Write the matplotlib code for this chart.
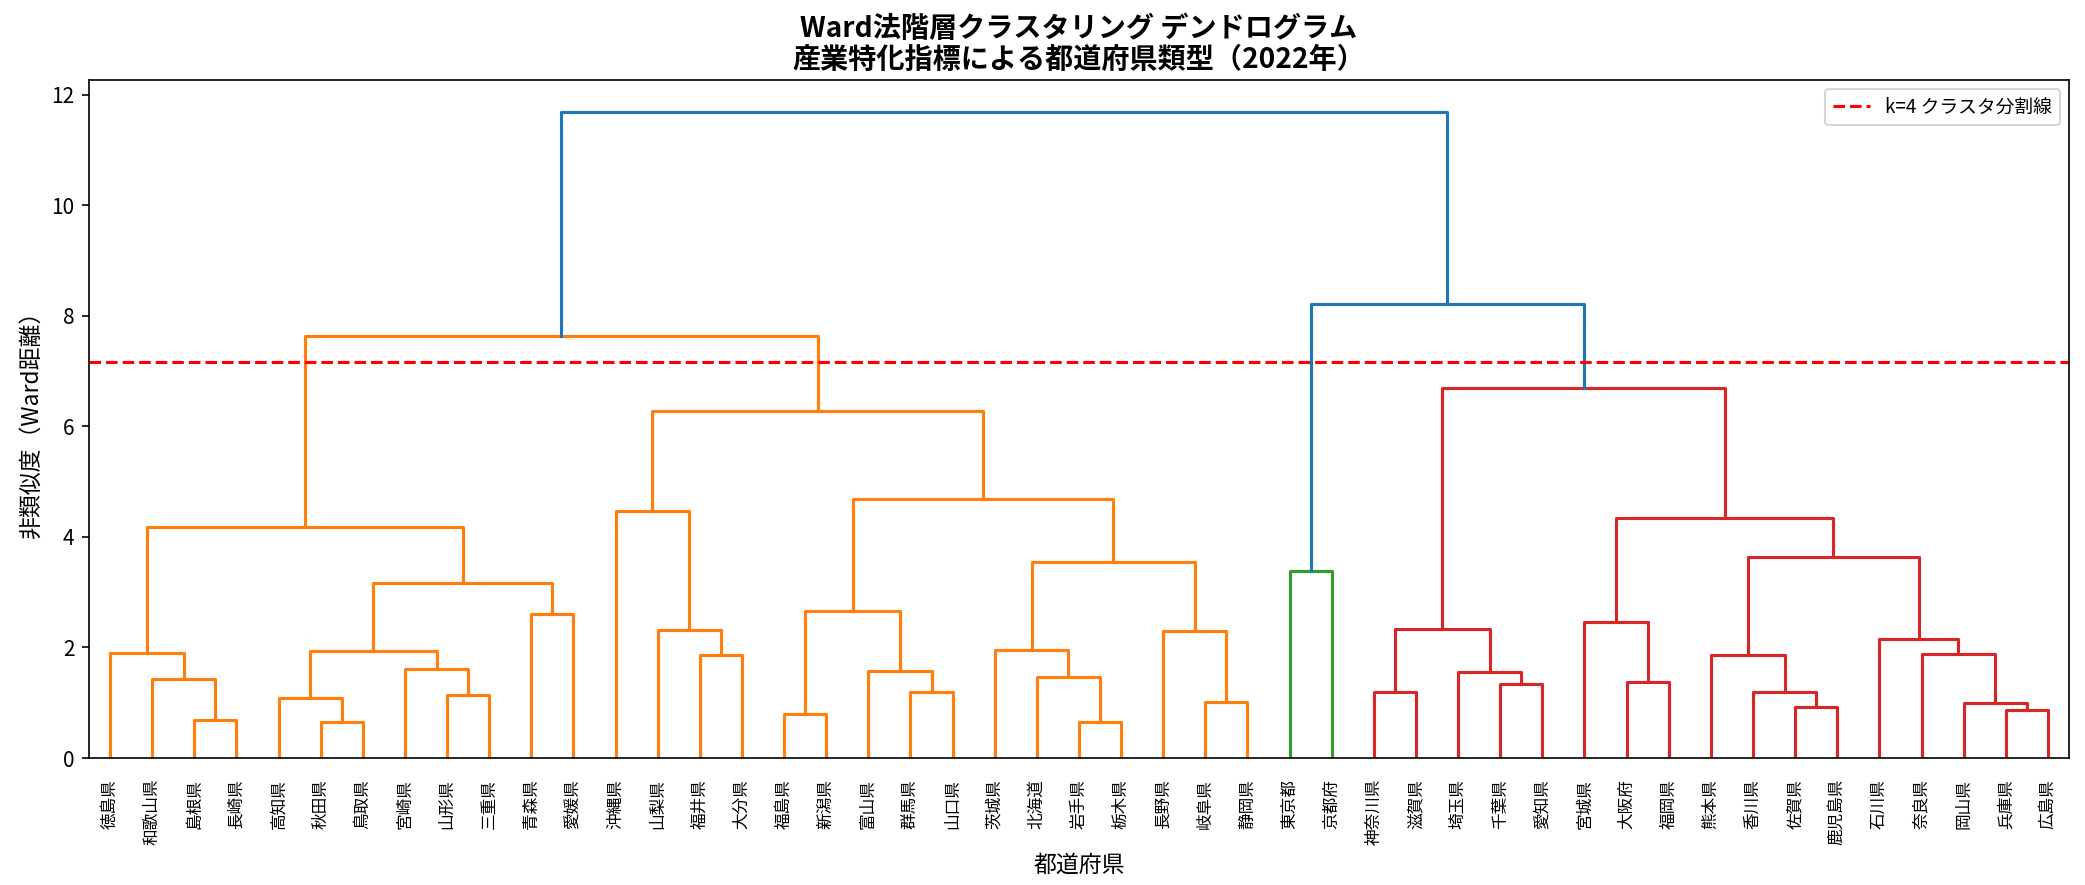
import numpy as np
import matplotlib
matplotlib.use("Agg")
import matplotlib.pyplot as plt

plt.rcParams['font.family'] = ['Noto Sans CJK JP', 'DejaVu Sans']

# leaf order as drawn
labels = ['徳島県', '和歌山県', '島根県', '長崎県', '高知県', '秋田県', '鳥取県', '宮崎県',
          '山形県', '三重県', '青森県', '愛媛県', '沖縄県', '山梨県', '福井県', '大分県',
          '福島県', '新潟県', '富山県', '群馬県', '山口県', '茨城県', '北海道', '岩手県',
          '栃木県', '長野県', '岐阜県', '静岡県', '東京都', '京都府', '神奈川県', '滋賀県',
          '埼玉県', '千葉県', '愛知県', '宮城県', '大阪府', '福岡県', '熊本県', '香川県',
          '佐賀県', '鹿児島県', '石川県', '奈良県', '岡山県', '兵庫県', '広島県']

# merges: (left, right, Ward distance); str = leaf, int = earlier merge index
merge_left = ['島根県', '和歌山県', '徳島県', '秋田県', '高知県', '山形県', '宮崎県', 4, '青森県', 7,
              2, '福井県', '山梨県', '沖縄県', '福島県', '群馬県', '富山県', 14, '岩手県', '北海道',
              '茨城県', '岐阜県', '長野県', 20, 17, 13, 10, '東京都', '神奈川県', '千葉県',
              '埼玉県', 28, '大阪府', '宮城県', '佐賀県', '香川県', '熊本県', '兵庫県', '岡山県', '奈良県',
              '石川県', 36, 33, 31, 27, 26]
merge_right = ['長崎県', 0, 1, '鳥取県', 3, '三重県', 5, 6, '愛媛県', 8,
               9, '大分県', 11, 12, '新潟県', '山口県', 15, 16, '栃木県', 18,
               19, '静岡県', 21, 22, 23, 24, 25, '京都府', '滋賀県', '愛知県',
               29, 30, '福岡県', 32, '鹿児島県', 34, 35, '広島県', 37, 38,
               39, 40, 41, 42, 43, 44]
merge_height = [0.69, 1.42, 1.90, 0.66, 1.08, 1.14, 1.61, 1.93, 2.61, 3.17,
                4.17, 1.87, 2.32, 4.46, 0.80, 1.20, 1.58, 2.66, 0.66, 1.47,
                1.96, 1.02, 2.29, 3.54, 4.69, 6.27, 7.64, 3.39, 1.20, 1.34,
                1.56, 2.33, 1.38, 2.46, 0.93, 1.20, 1.87, 0.87, 0.99, 1.88,
                2.16, 3.64, 4.35, 6.70, 8.21, 11.68]
cut_height = 7.17

palette = ['#ff7f0e', '#2ca02c', '#d62728']
above_color = '#1f77b4'
color_threshold = 0.7 * max(merge_height)

leaf_x = {lab: 5 + 10 * i for i, lab in enumerate(labels)}
node_x, node_color = {}, {}


def pos(node):
    if isinstance(node, str):
        return leaf_x[node], 0.0
    return node_x[node], merge_height[node]


def paint(node, col):
    if isinstance(node, int):
        node_color[node] = col
        paint(merge_left[node], col)
        paint(merge_right[node], col)


for k in range(len(merge_height)):
    node_x[k] = (pos(merge_left[k])[0] + pos(merge_right[k])[0]) / 2

# color clusters below threshold in leaf order, like scipy
ci = 0
for k in sorted(range(len(merge_height)), key=lambda k: node_x[k]):
    if merge_height[k] < color_threshold and k not in node_color:
        root = k
        # climb to the highest ancestor under threshold
        changed = True
        while changed:
            changed = False
            for p in range(len(merge_height)):
                if (merge_left[p] == root or merge_right[p] == root) and merge_height[p] < color_threshold:
                    root = p
                    changed = True
        paint(root, palette[ci % len(palette)])
        ci += 1

fig = plt.figure(figsize=(13.9, 5.9), dpi=150)
ax = fig.add_axes([0.0427, 0.1435, 0.9496, 0.7661])

for k in range(len(merge_height)):
    xl, yl = pos(merge_left[k])
    xr, yr = pos(merge_right[k])
    h = merge_height[k]
    ax.plot([xl, xl, xr, xr], [yl, h, h, yr], color=node_color.get(k, above_color), lw=1.5)

ax.axhline(cut_height, color='red', ls='--', lw=1.5, label='k=4 クラスタ分割線')
ax.set_xlim(0, 10 * len(labels))
ax.set_ylim(0, max(merge_height) * 1.05)
ax.set_xticks([leaf_x[l] for l in labels])
ax.set_xticklabels(labels, rotation=90, fontsize=8)
ax.tick_params(axis='x', length=0, pad=10)
ax.set_xlabel('都道府県', fontsize=11)
ax.set_ylabel('非類似度（Ward距離）', fontsize=11)
ax.set_title('Ward法階層クラスタリング デンドログラム\n産業特化指標による都道府県類型（2022年）',
             fontsize=13.5, fontweight='bold', linespacing=1.1)
ax.legend(loc='upper right', fontsize=9)

fig.savefig('out.png', dpi=150, facecolor='white')
